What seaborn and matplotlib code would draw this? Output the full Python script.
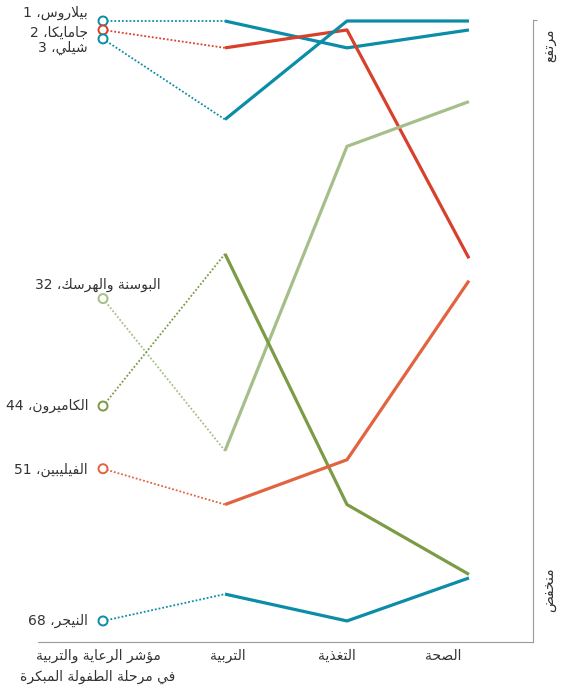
import re
import pandas as pd
import seaborn as sns
import matplotlib
matplotlib.use("Agg")
import matplotlib.pyplot as plt

# data (ranks)
countries = ["بيلاروس", "جامايكا", "شيلي", "البوسنة والهرسك", "الكاميرون", "الفيليبين", "النيجر"]
index_rank = [1, 2, 3, 32, 44, 51, 68]
education = [1, 4, 12, 49, 27, 55, 65]
nutrition = [4, 2, 1, 15, 55, 50, 68]
health = [2, 27.5, 1, 10, 62.8, 30, 63.2]
colors = ["#0b8ca7", "#d7402b", "#0b8ca7", "#a6be89", "#7b9b45", "#e2633f", "#0b8ca7"]

columns = ["مؤشر الرعاية والتربية\nفي مرحلة الطفولة المبكرة", "التربية", "التغذية", "الصحة"]
high_label = "مرتفع"
low_label = "منخفض"

# --- minimal arabic shaping (matplotlib has no bidi / shaping) ---
FORMS = {'ا': 0xFE8D, 'ب': 0xFE8F, 'ة': 0xFE93, 'ت': 0xFE95, 'ج': 0xFE9D, 'ح': 0xFEA1,
         'خ': 0xFEA5, 'د': 0xFEA9, 'ذ': 0xFEAB, 'ر': 0xFEAD, 'ز': 0xFEAF, 'س': 0xFEB1,
         'ش': 0xFEB5, 'ص': 0xFEB9, 'ض': 0xFEBD, 'ط': 0xFEC1, 'ع': 0xFEC9, 'غ': 0xFECD,
         'ف': 0xFED1, 'ق': 0xFED5, 'ك': 0xFED9, 'ل': 0xFEDD, 'م': 0xFEE1, 'ن': 0xFEE5,
         'ه': 0xFEE9, 'و': 0xFEED, 'ي': 0xFEF1, 'ؤ': 0xFE85}
RIGHT_ONLY = set("ادذرزوؤة")


def shape(line):
    toks, i = [], 0
    while i < len(line):
        if line[i] == 'ل' and i + 1 < len(line) and line[i + 1] == 'ا':
            toks.append('LA')
            i += 2
        else:
            toks.append(line[i])
            i += 1

    def joins_next(t):
        return t in FORMS and t not in RIGHT_ONLY

    def letter(t):
        return t in FORMS or t == 'LA'

    out = []
    for k, t in enumerate(toks):
        prev = toks[k - 1] if k > 0 else None
        nxt = toks[k + 1] if k + 1 < len(toks) else None
        jp = prev is not None and joins_next(prev) and letter(t)
        if t == 'LA':
            out.append(chr(0xFEFC if jp else 0xFEFB))
            continue
        if t not in FORMS:
            out.append(t)
            continue
        jn = joins_next(t) and nxt is not None and letter(nxt)
        b = FORMS[t]
        out.append(chr(b + 3 if jp and jn else b + 2 if jn else b + 1 if jp else b))
    return ''.join(out)


def ar(s):
    lines = []
    for line in s.split("\n"):
        r = shape(line)[::-1]
        lines.append(re.sub(r'[0-9]+', lambda m: m.group(0)[::-1], r))
    return "\n".join(lines)


sns.set_theme(style="white")
plt.rcParams['font.family'] = ['DejaVu Sans']

df = pd.DataFrame({"country": countries, "c0": index_rank, "c1": education,
                   "c2": nutrition, "c3": health})
long = df.melt(id_vars="country", var_name="col", value_name="rank")
long["x"] = long["col"].str[1].astype(int)
palette = dict(zip(countries, colors))

W, H = 563, 689
fig = plt.figure(figsize=(W / 100, H / 100), dpi=100)
ax = fig.add_axes([38 / W, 1 - 642 / H, (533 - 38) / W, (642 - 20) / H])

# dotted links from the index to education
sns.lineplot(data=long[long.x <= 1], x="x", y="rank", hue="country", palette=palette,
             linewidth=1.3, linestyle=(0, (1, 1.1)), legend=False, ax=ax)
# solid lines across the three domains
sns.lineplot(data=long[long.x >= 1], x="x", y="rank", hue="country", palette=palette,
             linewidth=2.3, legend=False, ax=ax)
for line in ax.get_lines():
    line.set_solid_capstyle("butt")
    line.set_clip_on(False)

# open circles at the index
start = long[long.x == 0]
ax.scatter(start["x"], start["rank"], s=42, facecolor="white",
           edgecolor=[palette[c] for c in start["country"]], linewidth=1.4,
           zorder=5, clip_on=False)

# country labels
offsets = {"بيلاروس": (-15, 8), "جامايكا": (-15, -3), "شيلي": (-15, -9),
           "البوسنة والهرسك": (-5, 14), "الكاميرون": (-15, 0),
           "الفيليبين": (-15, -1), "النيجر": (-15, 0)}
for c, r in zip(countries, index_rank):
    dx, dy = offsets[c]
    ha = "center" if c == "البوسنة والهرسك" else "right"
    ax.annotate(ar(f"{c}، {r}"), (0, r), xytext=(dx, dy), textcoords="offset pixels",
                ha=ha, va="center", fontsize=10, color="#333333")

ax.set_xlim(-0.533, 3.525)
ax.set_ylim(70.35, 0.888)

for s in ["left", "top"]:
    ax.spines[s].set_visible(False)
for s in ["bottom", "right"]:
    ax.spines[s].set_color("#9a9a9a")
    ax.spines[s].set_linewidth(0.8)

ax.set_xticks([-0.041, 1.025, 1.918, 2.787])
ax.set_xticklabels([ar(c) for c in columns], fontsize=10, color="#333333", linespacing=1.6)
ax.set_xticks([-0.525, 0.41, 1.336, 2.262, 3.197, 3.525], minor=True)
ax.tick_params(axis="x", which="major", length=0, pad=5)
ax.tick_params(axis="x", which="minor", length=4, width=0.8, color="#9a9a9a", direction="out")
ax.yaxis.tick_right()
ax.set_yticks([0.888])
ax.set_yticklabels([])
ax.tick_params(axis="y", length=3, width=0.8, color="#9a9a9a", direction="out")
ax.set_xlabel("")
ax.set_ylabel("")

fig.text(549 / W, 1 - 45 / H, ar(high_label), rotation=90, ha="center", va="center",
         fontsize=10, color="#333333")
fig.text(549 / W, 1 - 590 / H, ar(low_label), rotation=90, ha="center", va="center",
         fontsize=10, color="#333333")

fig.savefig("out.png", dpi=100)
